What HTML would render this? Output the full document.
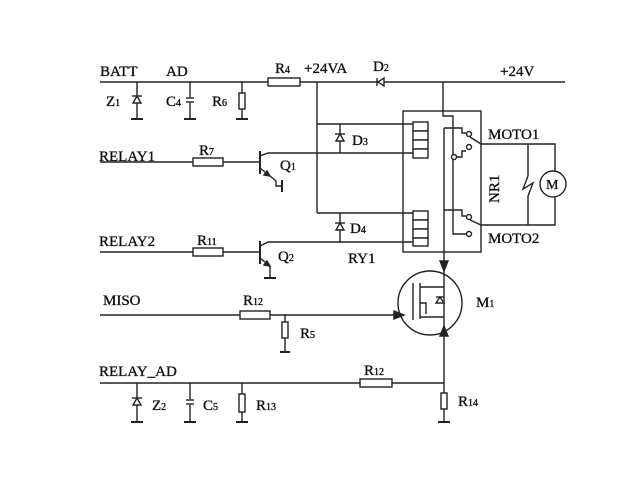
<!DOCTYPE html>
<html><head><meta charset="utf-8"><style>
body{margin:0;background:#fff}
svg{display:block}
text{font-family:"Liberation Serif",serif;fill:#111;stroke:#111;stroke-width:0.35}
</style></head><body>
<svg width="640" height="479" viewBox="0 0 640 479" xmlns="http://www.w3.org/2000/svg" stroke="#222" stroke-width="1.4" fill="none">
<line x1="100" y1="82" x2="268" y2="82"/>
<rect x="268" y="78" width="32" height="8" fill="#fff"/>
<line x1="300" y1="82" x2="565" y2="82"/>
<polygon points="378,82 384,78 384,86" fill="#fff"/><line x1="377" y1="78" x2="377" y2="86"/>
<line x1="137" y1="82" x2="137" y2="119"/><line x1="131" y1="119" x2="143" y2="119" stroke-width="2"/>
<polygon points="137,96 133,103 141,103" fill="#fff"/><path d="M132 96h10"/>
<line x1="190" y1="82" x2="190" y2="119"/><line x1="184" y1="119" x2="196" y2="119" stroke-width="2"/>
<rect x="185" y="98" width="10" height="4" fill="#fff" stroke="#fff"/><line x1="186" y1="98" x2="194" y2="98"/><line x1="186" y1="102" x2="194" y2="102"/>
<line x1="242" y1="82" x2="242" y2="119"/><line x1="236" y1="119" x2="248" y2="119" stroke-width="2"/>
<rect x="239" y="93" width="6" height="16" fill="#fff"/>
<line x1="317" y1="82" x2="317" y2="213"/>
<line x1="317" y1="124" x2="413" y2="124"/>
<line x1="317" y1="213" x2="413" y2="213"/>
<line x1="340" y1="124" x2="340" y2="153"/><polygon points="340,134 336,141 344,141" fill="#fff"/><line x1="335" y1="134" x2="345" y2="134"/>
<line x1="340" y1="213" x2="340" y2="242"/><polygon points="340,223 336,230 344,230" fill="#fff"/><line x1="335" y1="223" x2="345" y2="223"/>
<line x1="100" y1="162" x2="193" y2="162"/><rect x="193" y="158" width="30" height="8" fill="#fff"/><line x1="223" y1="162" x2="260" y2="162"/>
<line x1="260" y1="151" x2="260" y2="174" stroke-width="2"/>
<path d="M260 156 L268 153 L413 153"/>
<path d="M260 168 L270 176 L276 181 L276 186 L282 186"/><line x1="282" y1="180" x2="282" y2="192" stroke-width="2"/>
<polygon points="270,176 264,175 267,171" fill="#222"/>
<line x1="100" y1="252" x2="193" y2="252"/><rect x="193" y="248" width="30" height="8" fill="#fff"/><line x1="223" y1="252" x2="260" y2="252"/>
<line x1="260" y1="241" x2="260" y2="264" stroke-width="2"/>
<path d="M260 246 L268 242 L413 242"/>
<path d="M260 258 L270 266 L270 278"/><line x1="264" y1="278" x2="276" y2="278" stroke-width="2"/>
<polygon points="270,266 264,265 267,261" fill="#222"/>
<rect x="403" y="111" width="78" height="141"/>
<g fill="#fff"><rect x="413" y="122" width="15" height="9"/><rect x="413" y="131" width="15" height="9"/><rect x="413" y="140" width="15" height="9"/><rect x="413" y="149" width="15" height="9"/>
<rect x="413" y="211" width="15" height="9"/><rect x="413" y="220" width="15" height="9"/><rect x="413" y="229" width="15" height="9"/><rect x="413" y="238" width="15" height="8"/></g>
<path d="M443 82 V116 H453 V234 H466"/>
<path d="M453 157 H462 V151 H466"/>
<path d="M444 128 H462 V133 H466"/>
<path d="M444 210 H462 V216 H466"/>
<line x1="444" y1="128" x2="444" y2="383"/>
<polygon points="444,271 440,261 448,261" fill="#222"/>
<g fill="#fff"><circle cx="469" cy="134" r="2.5"/><circle cx="469" cy="147" r="2.5"/><circle cx="454" cy="157" r="2.5"/><circle cx="469" cy="217" r="2.5"/><circle cx="469" cy="234" r="2.5"/></g>
<path d="M470 137 L481 144 H555 V225 H481 L470 220"/>
<line x1="528" y1="144" x2="528" y2="225"/>
<rect x="524" y="176" width="8" height="20" fill="#fff" stroke="none"/>
<path d="M528 176 L523 189 L533 183 L528 196"/>
<circle cx="553" cy="184" r="13" fill="#fff"/>
<circle cx="430" cy="303" r="32"/>
<polygon points="444,326 440,336 448,336" fill="#222"/>
<line x1="413" y1="283" x2="413" y2="320"/><line x1="420" y1="283" x2="420" y2="319"/>
<path d="M420 287 H444 M420 317 H444 M420 303 H426 V314"/>
<polygon points="440,297 436,303 444,303" fill="#fff"/><line x1="436" y1="297" x2="444" y2="297"/>
<line x1="100" y1="315" x2="240" y2="315"/><rect x="240" y="311" width="30" height="8" fill="#fff"/><line x1="270" y1="315" x2="400" y2="315"/>
<polygon points="404,315 394,311 394,319" fill="#222"/>
<line x1="285" y1="315" x2="285" y2="352"/><rect x="282" y="322" width="6" height="16" fill="#fff"/><line x1="280" y1="352" x2="290" y2="352" stroke-width="2"/>
<line x1="100" y1="383" x2="360" y2="383"/><rect x="360" y="379" width="32" height="8" fill="#fff"/><line x1="392" y1="383" x2="444" y2="383"/>
<line x1="444" y1="383" x2="444" y2="422"/><rect x="441" y="393" width="6" height="16" fill="#fff"/><line x1="438" y1="422" x2="450" y2="422" stroke-width="2"/>
<line x1="137" y1="383" x2="137" y2="422"/><line x1="131" y1="422" x2="143" y2="422" stroke-width="2"/>
<polygon points="137,398 133,405 141,405" fill="#fff"/><path d="M132 398h10"/>
<line x1="190" y1="383" x2="190" y2="422"/><line x1="184" y1="422" x2="196" y2="422" stroke-width="2"/>
<rect x="185" y="400" width="10" height="4" fill="#fff" stroke="#fff"/><line x1="186" y1="400" x2="194" y2="400"/><line x1="186" y1="404" x2="194" y2="404"/>
<line x1="242" y1="383" x2="242" y2="422"/><line x1="236" y1="422" x2="248" y2="422" stroke-width="2"/>
<rect x="239" y="394" width="6" height="18" fill="#fff"/>
<g font-size="15">
<text x="100" y="76">BATT</text><text x="166" y="76">AD</text>
<text x="275" y="73">R<tspan font-size="10">4</tspan></text>
<text x="304" y="73">+24VA</text>
<text x="373" y="71">D<tspan font-size="10">2</tspan></text>
<text x="500" y="76">+24V</text>
<text x="106" y="106">Z<tspan font-size="10">1</tspan></text>
<text x="166" y="106">C<tspan font-size="10">4</tspan></text>
<text x="212" y="106">R<tspan font-size="10">6</tspan></text>
<text x="99" y="161">RELAY1</text>
<text x="199" y="155">R<tspan font-size="10">7</tspan></text>
<text x="280" y="170">Q<tspan font-size="10">1</tspan></text>
<text x="352" y="145">D<tspan font-size="10">3</tspan></text>
<text x="99" y="246">RELAY2</text>
<text x="197" y="245">R<tspan font-size="10">11</tspan></text>
<text x="278" y="261">Q<tspan font-size="10">2</tspan></text>
<text x="350" y="233">D<tspan font-size="10">4</tspan></text>
<text x="348" y="263">RY1</text>
<text x="488" y="139">MOTO1</text>
<text x="488" y="243">MOTO2</text>
<text x="499" y="203" transform="rotate(-90 499 203)">NR1</text>
<text x="546" y="189" font-size="14">M</text>
<text x="103" y="305">MISO</text>
<text x="243" y="305">R<tspan font-size="10">12</tspan></text>
<text x="300" y="338">R<tspan font-size="10">5</tspan></text>
<text x="476" y="307">M<tspan font-size="10">1</tspan></text>
<text x="99" y="376">RELAY_AD</text>
<text x="364" y="375">R<tspan font-size="10">12</tspan></text>
<text x="152" y="410">Z<tspan font-size="10">2</tspan></text>
<text x="203" y="410">C<tspan font-size="10">5</tspan></text>
<text x="256" y="410">R<tspan font-size="10">13</tspan></text>
<text x="458" y="406">R<tspan font-size="10">14</tspan></text>
</g>
</svg>
</body></html>
